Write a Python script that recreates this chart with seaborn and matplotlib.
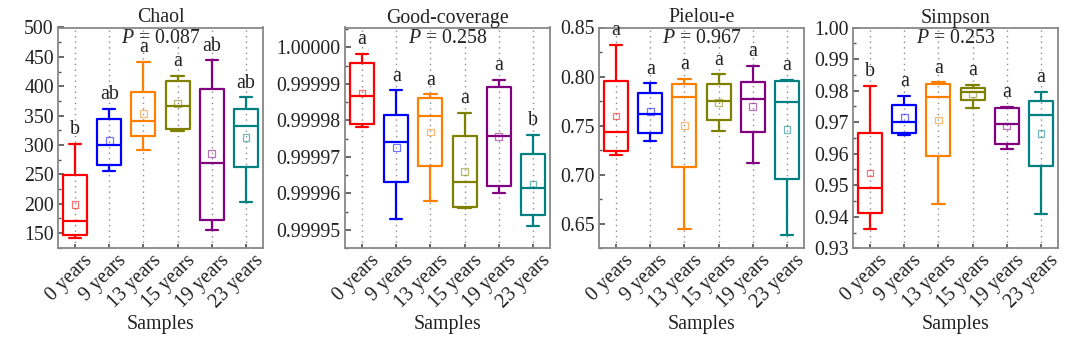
import numpy as np
import pandas as pd
import matplotlib
matplotlib.use("Agg")
import matplotlib.pyplot as plt
import matplotlib.transforms as mtransforms
from matplotlib.ticker import AutoMinorLocator, FormatStrFormatter, MultipleLocator
import seaborn as sns

# ---------------- data ----------------
categories = ["0 years", "9 years", "13 years", "15 years", "19 years", "23 years"]
colors = ["#FF0000", "#0000FF", "#FF8000", "#808000", "#800080", "#008080"]

chao_min = [142, 255, 291, 323, 155, 203]
chao_q1 = [146, 266, 315, 327, 173, 262]
chao_med = [171, 300, 340, 366, 270, 332]
chao_q3 = [248, 344, 391, 409, 396, 362]
chao_max = [302, 362, 441, 418, 444, 381]
chao_mean = [198, 307, 353, 370, 285, 312]
chao_letters = ["b", "ab", "a", "a", "ab", "ab"]
chao_p = "0.087"

gc_min = [0.9999782, 0.9999530, 0.9999580, 0.9999561, 0.9999600, 0.9999510]
gc_q1 = [0.9999789, 0.9999630, 0.9999675, 0.9999564, 0.9999620, 0.9999541]
gc_med = [0.9999866, 0.9999740, 0.9999811, 0.9999630, 0.9999756, 0.9999614]
gc_q3 = [0.9999956, 0.9999814, 0.9999861, 0.9999756, 0.9999891, 0.9999709]
gc_max = [0.9999982, 0.9999882, 0.9999871, 0.9999820, 0.9999911, 0.9999760]
gc_mean = [0.9999875, 0.9999725, 0.9999768, 0.9999660, 0.9999756, 0.9999626]
gc_letters = ["a", "a", "a", "a", "a", "b"]
gc_p = "0.258"

pie_min = [0.7200, 0.7343, 0.6445, 0.7445, 0.7123, 0.6387]
pie_q1 = [0.7242, 0.7422, 0.7082, 0.7557, 0.7438, 0.6960]
pie_med = [0.7438, 0.7621, 0.7791, 0.7754, 0.7767, 0.7740]
pie_q3 = [0.7957, 0.7832, 0.7923, 0.7927, 0.7947, 0.7950]
pie_max = [0.8320, 0.7930, 0.7977, 0.8022, 0.8110, 0.7964]
pie_mean = [0.7598, 0.7641, 0.7503, 0.7737, 0.7693, 0.7462]
pie_letters = ["a", "a", "a", "a", "a", "a"]
pie_p = "0.967"

sim_min = [0.9362, 0.9660, 0.9442, 0.9746, 0.9616, 0.9410]
sim_q1 = [0.9412, 0.9664, 0.9593, 0.9769, 0.9632, 0.9560]
sim_med = [0.9491, 0.9699, 0.9780, 0.9797, 0.9693, 0.9722]
sim_q3 = [0.9667, 0.9753, 0.9821, 0.9809, 0.9745, 0.9767]
sim_max = [0.9815, 0.9782, 0.9826, 0.9817, 0.9748, 0.9795]
sim_mean = [0.9539, 0.9714, 0.9707, 0.9789, 0.9688, 0.9664]
sim_letters = ["b", "a", "a", "a", "a", "a"]
sim_p = "0.253"

panels = [
    ("Chaol", chao_min, chao_q1, chao_med, chao_q3, chao_max, chao_mean, chao_letters, chao_p,
     (124, 500), 50, "%d"),
    ("Good-coverage", gc_min, gc_q1, gc_med, gc_q3, gc_max, gc_mean, gc_letters, gc_p,
     (0.999945, 1.0000054), 0.00001, "%.5f"),
    ("Pielou-e", pie_min, pie_q1, pie_med, pie_q3, pie_max, pie_mean, pie_letters, pie_p,
     (0.625, 0.85), 0.05, "%.2f"),
    ("Simpson", sim_min, sim_q1, sim_med, sim_q3, sim_max, sim_mean, sim_letters, sim_p,
     (0.93, 1.00), 0.01, "%.2f"),
]

# ---------------- style ----------------
sns.set_theme(style="ticks")
plt.rcParams["font.family"] = ["Liberation Serif", "DejaVu Serif"]
plt.rcParams["mathtext.fontset"] = "custom"
plt.rcParams["mathtext.rm"] = "Liberation Serif"
plt.rcParams["mathtext.it"] = "Liberation Serif:italic"

FS = 14.3
TXT = "#222222"
W, H = 1080, 347
fig = plt.figure(figsize=(W / 100, H / 100), dpi=100)

lefts = [58, 345, 599, 853]
ax_w = 205
ax_top, ax_bot = 27.5, 248.3

for k, (title, mn, q1, md, q3, mx, mean, letters, p, ylim, step, fmt) in enumerate(panels):
    ax = fig.add_axes([lefts[k] / W, (H - ax_bot) / H, ax_w / W, (ax_bot - ax_top) / H])
    df = pd.DataFrame({
        "Sample": np.repeat(categories, 5),
        "value": np.column_stack([mn, q1, md, q3, mx]).ravel(),
    })
    sns.boxplot(data=df, x="Sample", y="value", hue="Sample", order=categories,
                hue_order=categories, palette=colors, fill=False, width=0.7,
                whis=(0, 100), linewidth=1.6, showfliers=False, legend=False,
                capwidths=0.36, ax=ax)
    xs = np.arange(len(categories))
    ax.scatter(xs, mean, marker="s", s=24, facecolors="none", edgecolors=colors,
               linewidths=0.9, alpha=0.55, zorder=6)

    lo, hi = ylim
    rng = hi - lo
    ax.set_ylim(lo, hi)
    ax.set_xlim(-0.5, len(categories) - 0.5)
    ax.yaxis.set_major_locator(MultipleLocator(step))
    ax.yaxis.set_minor_locator(AutoMinorLocator(2))
    ax.yaxis.set_major_formatter(FormatStrFormatter(fmt))

    for i, let in enumerate(letters):
        y = mx[i] + 0.022 * rng
        ax.text(i, y, let, ha="center", va="bottom", fontsize=FS, color=TXT, zorder=7)

    ax.text(0.5, 0.995, f"$P$ = {p}", transform=ax.transAxes, ha="center", va="top",
            fontsize=FS, color=TXT, zorder=7)
    ax.set_title(title, fontsize=FS, color=TXT, pad=3)

    ax.xaxis.grid(True, linestyle=(0, (1, 3)), color="#8a8a8a", linewidth=1.0)
    ax.yaxis.grid(False)
    ax.set_axisbelow(True)

    for sp in ax.spines.values():
        sp.set_color("#888888")
        sp.set_linewidth(1.3)
        sp.set_visible(True)
    ax.tick_params(axis="both", which="both", direction="in", color="#555555",
                   labelcolor=TXT, labelsize=FS)
    ax.tick_params(axis="y", which="major", length=4, pad=3)
    ax.tick_params(axis="y", which="minor", length=2)
    ax.tick_params(axis="x", which="major", length=3, pad=2)

    ax.set_xticks(xs)
    ax.set_xticklabels(categories, rotation=45, ha="right", va="top",
                       rotation_mode="anchor", fontsize=FS)
    offset = mtransforms.ScaledTranslation(8 / 100, 0, fig.dpi_scale_trans)
    for lab in ax.get_xticklabels():
        lab.set_transform(lab.get_transform() + offset)

    ax.set_ylabel("")
    ax.set_xlabel("Samples", fontsize=FS, color=TXT, labelpad=2)

fig.savefig("out.png", dpi=100)
